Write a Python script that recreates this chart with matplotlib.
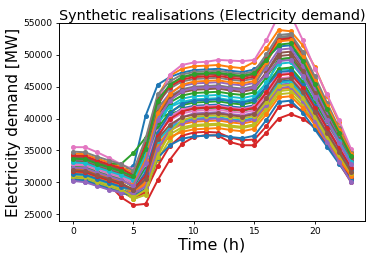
import matplotlib
matplotlib.use("Agg")
import matplotlib.pyplot as plt

hours = list(range(24))

s00 = [33800, 33700, 33000, 32400, 31800, 32500, 40400, 45300, 46500, 47200, 47600, 47700, 47800, 47500, 47300, 47700, 49400, 51300, 51500, 48800, 45000, 41100, 37300, 33500]
s01 = [34500, 34400, 33700, 33100, 32400, 31500, 36500, 43500, 46700, 47800, 48200, 48300, 48400, 48100, 47900, 48900, 51100, 53900, 53700, 51500, 48100, 43600, 39400, 34800]
s02 = [33000, 33000, 32800, 32900, 32900, 34600, 37000, 40000, 40800, 41200, 41500, 41600, 41700, 41400, 41200, 41600, 45200, 49300, 49500, 47300, 44100, 40900, 37700, 34600]
s03 = [31800, 31700, 30600, 29600, 27600, 26400, 26600, 30300, 33500, 36000, 37100, 37400, 37300, 36300, 35800, 35800, 37800, 40000, 40700, 40000, 38600, 36000, 33000, 30000]
s04 = [30300, 30100, 29500, 28900, 28300, 28000, 29500, 35000, 38500, 40200, 40800, 40900, 41000, 40700, 40500, 40900, 43000, 45300, 45500, 43200, 40000, 36600, 33400, 30200]
s05 = [32500, 32400, 31700, 31100, 30500, 30000, 33500, 40500, 43000, 44100, 44500, 44600, 44700, 44400, 44200, 44600, 47300, 50300, 50500, 47900, 44200, 40300, 36700, 33000]
s06 = [35500, 35500, 34700, 33800, 32800, 32000, 34500, 42500, 46900, 48400, 48800, 48900, 49200, 49100, 49000, 49200, 52300, 56200, 56300, 52300, 47800, 43800, 39700, 35200]
s07 = [33200, 33100, 32400, 31800, 31200, 30500, 35000, 42500, 44700, 45800, 46200, 46300, 46400, 46100, 45900, 46300, 49400, 52800, 53000, 50200, 46200, 42000, 38000, 34000]
s08 = [31000, 30900, 30200, 29600, 28900, 27300, 28200, 33500, 36700, 38300, 38800, 38900, 39000, 38700, 38500, 38900, 41200, 43800, 44000, 42000, 39300, 36500, 33700, 31000]
s09 = [32800, 32700, 32000, 31400, 30800, 29500, 32000, 39000, 41900, 43100, 43500, 43600, 43700, 43400, 43200, 43600, 45500, 47600, 47800, 45500, 42300, 38900, 35700, 32500]
s10 = [30800, 30700, 30000, 29400, 28800, 28200, 30500, 37000, 40200, 41600, 42000, 42100, 42200, 41900, 41700, 42100, 43900, 45800, 46000, 43700, 40500, 37200, 34000, 30800]
s11 = [31500, 31400, 30700, 30100, 29500, 28000, 29800, 36000, 38100, 39100, 39500, 39600, 39700, 39400, 39200, 39600, 41900, 44600, 44800, 42800, 40000, 37100, 34300, 31500]
s12 = [32200, 32100, 31400, 30800, 30200, 29800, 33000, 39500, 42500, 43600, 44000, 44100, 44200, 43900, 43700, 44100, 46500, 49300, 49500, 47100, 43800, 40400, 37100, 33800]
s13 = [31900, 31800, 31000, 30300, 28500, 27500, 28500, 32500, 35700, 37300, 37800, 37900, 37800, 37000, 36600, 36700, 38800, 41800, 42200, 41200, 39500, 36800, 33500, 30500]
s14 = [33500, 33400, 32700, 32100, 31500, 30800, 34000, 41500, 44000, 45100, 45500, 45600, 45700, 45400, 45200, 45600, 48000, 50800, 51000, 48300, 44600, 40700, 36900, 33200]
s15 = [34000, 33900, 33200, 32600, 32000, 31200, 35500, 42000, 45300, 46400, 46800, 46900, 47000, 46700, 46500, 46900, 49400, 52300, 52500, 49800, 45900, 41900, 38100, 34300]
s16 = [32600, 32500, 31800, 31200, 30600, 29500, 31500, 37500, 39700, 40800, 41200, 41300, 41400, 41100, 40900, 41300, 43700, 46300, 46500, 44300, 41300, 38100, 35000, 32000]
s17 = [33600, 33500, 32800, 32200, 31600, 30200, 33800, 41800, 43500, 44600, 45000, 45100, 45200, 44900, 44700, 45100, 48600, 52600, 52800, 50000, 45900, 41700, 37700, 33700]
s18 = [30600, 30500, 29800, 29200, 28600, 27400, 28000, 34500, 37500, 38600, 39000, 39100, 39200, 38900, 38700, 39100, 41500, 44300, 44500, 42500, 39700, 36800, 34000, 31200]
s19 = [31200, 31100, 30400, 29800, 29200, 28600, 30800, 36500, 38500, 39600, 40000, 40100, 40200, 39900, 39700, 40100, 42700, 45600, 45800, 43700, 40800, 37700, 34700, 31800]
s20 = [30400, 30300, 29600, 29000, 28400, 27800, 29000, 33800, 35800, 36800, 37200, 37300, 37400, 37100, 36900, 37300, 39800, 42600, 42800, 40900, 38300, 35600, 32900, 30300]
s21 = [31600, 31500, 30800, 30200, 29600, 28400, 30000, 35500, 37100, 37900, 38300, 38400, 38500, 38200, 38000, 38400, 40700, 43300, 43500, 41600, 39000, 36300, 33600, 31000]
s22 = [32400, 32300, 31600, 31000, 30400, 29200, 32500, 38500, 41000, 42100, 42500, 42600, 42700, 42400, 42200, 42600, 45000, 47800, 48000, 45800, 42600, 39300, 36200, 33000]
s23 = [34200, 34100, 33400, 32800, 32200, 31000, 36000, 43000, 45000, 46100, 46500, 46600, 46700, 46400, 46200, 46600, 49300, 52400, 52600, 49800, 45900, 41800, 37900, 34000]
s24 = [30200, 30000, 29400, 28800, 28400, 28300, 29300, 35200, 38100, 39300, 39800, 39900, 40000, 39700, 39500, 39900, 42200, 44800, 45000, 42800, 39600, 36300, 33200, 30000]
s25 = [33300, 33200, 32500, 31900, 31300, 30600, 34500, 41000, 43300, 44400, 44800, 44900, 45000, 44700, 44500, 44900, 47200, 49800, 50000, 47500, 44000, 40300, 36800, 33300]
s26 = [32900, 32800, 32100, 31500, 30900, 29900, 32800, 38000, 40300, 41400, 41800, 41900, 42000, 41700, 41500, 41900, 44300, 47000, 47200, 45000, 42000, 38800, 35700, 32700]
s27 = [34800, 34700, 34000, 33400, 32800, 31800, 36800, 43800, 45800, 46900, 47300, 47400, 47500, 47200, 47000, 47400, 50100, 53100, 53300, 50500, 46600, 42500, 38500, 34600]
s28 = [30900, 30800, 30100, 29500, 28900, 27600, 28800, 34000, 37800, 39700, 40300, 40400, 40500, 40200, 40000, 40400, 42600, 45100, 45300, 43200, 40300, 37200, 34300, 31400]
s29 = [33100, 33000, 32300, 31700, 31100, 30300, 34200, 40200, 41800, 42600, 43000, 43100, 43200, 42900, 42700, 43100, 45700, 48600, 48800, 46500, 43200, 39800, 36500, 33200]
s30 = [31300, 31200, 30500, 29900, 29300, 28800, 31500, 37800, 40800, 42300, 42800, 42900, 43000, 42700, 42500, 42900, 45000, 47300, 47500, 45200, 42000, 38600, 35300, 32100]
s31 = [32100, 32000, 31300, 30700, 30100, 29600, 33500, 40800, 43800, 45300, 45800, 45900, 46000, 45700, 45500, 45900, 48800, 52100, 52300, 49600, 45900, 42000, 38200, 34500]
s32 = [33700, 33600, 32900, 32300, 31700, 30900, 35200, 42800, 45300, 46500, 47000, 47100, 47200, 46900, 46700, 47100, 49200, 51600, 51800, 49100, 45400, 41500, 37800, 34100]
s33 = [31700, 31600, 30900, 30300, 29700, 28900, 31000, 37200, 39900, 41100, 41600, 41700, 41800, 41500, 41300, 41700, 44100, 46800, 47000, 44800, 41700, 38500, 35400, 32300]
s34 = [32300, 32200, 31500, 30900, 30300, 29400, 33000, 39800, 42800, 44300, 44800, 44900, 45000, 44700, 44500, 44900, 46900, 49000, 49200, 46700, 43300, 39700, 36200, 32800]
s35 = [31900, 31800, 31100, 30500, 29900, 28700, 30500, 36800, 39000, 40200, 40600, 40700, 40800, 40500, 40300, 40700, 43200, 46100, 46300, 44100, 41000, 37800, 34700, 31600]

series = [s00, s01, s02, s03, s04, s05, s06, s07, s08, s09, s10, s11, s12, s13, s14, s15, s16, s17,
          s18, s19, s20, s21, s22, s23, s24, s25, s26, s27, s28, s29, s30, s31, s32, s33, s34, s35]

fig = plt.figure(figsize=(3.74, 2.61), dpi=100)
ax = fig.add_axes([0.158, 0.153, 0.818, 0.759])
for s in series:
    ax.plot(hours, s, marker='o', markersize=2.6, linewidth=1.4)

ax.set_ylim(23900, 55000)
ax.set_xticks([0, 5, 10, 15, 20])
ax.set_yticks([25000, 30000, 35000, 40000, 45000, 50000, 55000])
ax.tick_params(labelsize=6.6, length=2.5, width=0.6, pad=2)
for sp in ax.spines.values():
    sp.set_linewidth(0.7)
ax.set_title("Synthetic realisations (Electricity demand)", fontsize=10.4, pad=2)
ax.set_xlabel("Time (h)", fontsize=11.5, labelpad=1)
ax.set_ylabel("Electricity demand [MW]", fontsize=11, labelpad=2)

fig.savefig("out.png", dpi=100)
